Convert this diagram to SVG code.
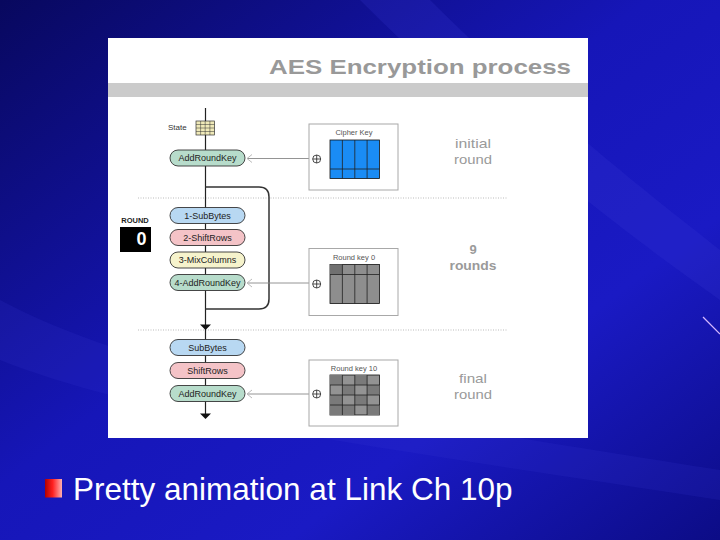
<svg xmlns="http://www.w3.org/2000/svg" width="720" height="540" viewBox="0 0 720 540">
<defs>
<linearGradient id="bg" x1="0" y1="0" x2="1" y2="1">
<stop offset="0" stop-color="#08085e"/>
<stop offset="0.45" stop-color="#1616b8"/>
<stop offset="0.7" stop-color="#1a1ac4"/>
<stop offset="1" stop-color="#0c0c86"/>
</linearGradient>
<linearGradient id="bullet" x1="0" y1="0" x2="1" y2="0">
<stop offset="0" stop-color="#b00000"/>
<stop offset="0.45" stop-color="#ff2020"/>
<stop offset="1" stop-color="#ffb0b0"/>
</linearGradient>
<style>
.pill{stroke:#333;stroke-width:0.9}
.pt{font-family:"Liberation Sans",Arial,sans-serif;font-size:9px;fill:#222;text-anchor:middle}
.blue{fill:#b8d8f2}.pink{fill:#f4c3c7}.yel{fill:#f6f3cc}.grn{fill:#b7dccb}
.kbox{fill:#fff;stroke:#a8a8a8;stroke-width:1}
.kt{font-family:"Liberation Sans",Arial,sans-serif;font-size:7.5px;fill:#555;text-anchor:middle}
.lbl{font-family:"Liberation Sans",Arial,sans-serif;font-size:13px;fill:#9a9a9a;text-anchor:middle}
.conn{stroke:#888;stroke-width:0.9;fill:none}
.chev{stroke:#bbb;stroke-width:1;fill:none}
.dot{stroke:#bbb;stroke-width:1;stroke-dasharray:1 1.5}
.gl{stroke:#222;stroke-width:0.8;fill:none}
.xor{fill:none;stroke:#222;stroke-width:0.8}
</style>
</defs>
<rect width="720" height="540" fill="url(#bg)"/>
<path d="M360,0 C480,120 620,230 720,300 L720,250 C630,180 520,90 430,0 Z" fill="#3a3ad8" opacity="0.2"/>
<path d="M0,300 C150,380 400,420 720,470 L720,500 C400,450 150,420 0,360 Z" fill="#3a3ad8" opacity="0.15"/>
<line x1="703" y1="317" x2="720" y2="334" stroke="#d6b8ff" stroke-width="1.2"/>

<g id="panel">
<rect x="108" y="38" width="480" height="400" fill="#fff"/>
<rect x="108" y="83" width="480" height="14" fill="#cbcbcb"/>
<text x="269" y="74" font-family="Liberation Sans,Arial,sans-serif" font-weight="bold" font-size="21" fill="#999" textLength="302" lengthAdjust="spacingAndGlyphs">AES Encryption process</text>
<line class="dot" x1="138" y1="198" x2="507" y2="198"/>
<line class="dot" x1="138" y1="330" x2="507" y2="330"/>
</g>

<g id="connectors">
<line x1="205.5" y1="108" x2="205.5" y2="416" stroke="#222" stroke-width="1.2"/>
<path d="M205.5,187 H259 Q269,187 269,197 V299 Q269,309 259,309 H205.5" stroke="#333" stroke-width="1.5" fill="none"/>
<polygon points="200,324.5 211,324.5 205.5,330" fill="#111"/>
<polygon points="200,413.5 211,413.5 205.5,419" fill="#111"/>
<line class="conn" x1="309" y1="158.5" x2="247" y2="158.5"/>
<polyline class="chev" points="252,154.5 247,158.5 252,162.5"/>
<line class="conn" x1="309" y1="283" x2="247" y2="283"/>
<polyline class="chev" points="252,279 247,283 252,287"/>
<line class="conn" x1="309" y1="394" x2="247" y2="394" stroke="#ccc"/>
<polyline class="chev" points="252,390 247,394 252,398" stroke="#ddd"/>
</g>

<g id="state">
<text x="168" y="130" font-family="Liberation Sans,Arial,sans-serif" font-size="8" fill="#333">State</text>
<rect x="196" y="121" width="18.5" height="14" fill="#efe9b8" stroke="#333" stroke-width="0.7"/>
<path d="M200.6,121V135M205.2,121V135M209.9,121V135M196,124.5H214.5M196,128H214.5M196,131.5H214.5" stroke="#333" stroke-width="0.5"/>
</g>

<g id="addroundkey0">
<rect class="pill grn" x="170" y="150" width="75" height="16" rx="8"/>
<text class="pt" x="207.5" y="161.3">AddRoundKey</text>
</g>

<g id="round-label">
<text x="135" y="223" font-family="Liberation Sans,Arial,sans-serif" font-weight="bold" font-size="7.5" fill="#222" text-anchor="middle">ROUND</text>
<rect x="120" y="227" width="31" height="25" fill="#000"/>
<text x="141.5" y="244.5" font-family="Liberation Sans,Arial,sans-serif" font-weight="bold" font-size="18" fill="#fff" text-anchor="middle">0</text>
</g>

<g id="subbytes">
<rect class="pill blue" x="170" y="207.5" width="75" height="16" rx="8"/>
<text class="pt" x="207.5" y="218.8">1-SubBytes</text>
</g>
<g id="shiftrows">
<rect class="pill pink" x="170" y="229.5" width="75" height="16" rx="8"/>
<text class="pt" x="207.5" y="240.8">2-ShiftRows</text>
</g>
<g id="mixcolumns">
<rect class="pill yel" x="170" y="252" width="75" height="16" rx="8"/>
<text class="pt" x="207.5" y="263.3">3-MixColumns</text>
</g>
<g id="addroundkey-round">
<rect class="pill grn" x="170" y="274.5" width="75" height="16" rx="8"/>
<text class="pt" x="207.5" y="285.8">4-AddRoundKey</text>
</g>

<g id="final-subbytes">
<rect class="pill blue" x="170" y="339.5" width="75" height="16" rx="8"/>
<text class="pt" x="207.5" y="350.8">SubBytes</text>
</g>
<g id="final-shiftrows">
<rect class="pill pink" x="170" y="362.5" width="75" height="16" rx="8"/>
<text class="pt" x="207.5" y="373.8">ShiftRows</text>
</g>
<g id="final-addroundkey">
<rect class="pill grn" x="170" y="385.5" width="75" height="16" rx="8"/>
<text class="pt" x="207.5" y="396.8">AddRoundKey</text>
</g>

<g id="cipher-key">
<rect class="kbox" x="309" y="124" width="89" height="66"/>
<text class="kt" x="354" y="135">Cipher Key</text>
<rect x="330" y="140" width="49.5" height="38.5" fill="#1a8cf5" stroke="#111" stroke-width="0.8"/>
<path d="M342.4,140V178.5M354.8,140V178.5M367.1,140V178.5M330,169H379.5" class="gl"/>
<circle class="xor" cx="316.7" cy="159" r="4"/>
<path class="xor" d="M312.7,159H320.7M316.7,155V163"/>
</g>

<g id="round-key-0">
<rect class="kbox" x="309" y="248.5" width="89" height="67"/>
<text class="kt" x="354" y="260">Round key 0</text>
<rect x="330" y="264.5" width="49.5" height="39" fill="#8e8e8e" stroke="#111" stroke-width="0.8"/>
<rect x="330" y="264.5" width="12.4" height="10" fill="#707070"/>
<path d="M342.4,264.5V303.5M354.8,264.5V303.5M367.1,264.5V303.5M330,274.5H379.5" class="gl"/>
<circle class="xor" cx="316.7" cy="284" r="4"/>
<path class="xor" d="M312.7,284H320.7M316.7,280V288"/>
</g>

<g id="round-key-10">
<rect class="kbox" x="309" y="360" width="89" height="66"/>
<text class="kt" x="354" y="371">Round key 10</text>
<rect x="330" y="375" width="49.5" height="40" fill="#939393" stroke="#111" stroke-width="0.8"/>
<path d="M330,375h12.4v10h-12.4z M354.8,375h12.3v10h-12.3z M342.4,385h12.4v10h-12.4z M330,395h12.4v10h-12.4z M354.8,395h12.3v10h-12.3z M342.4,405h12.4v10h-12.4z M367.1,385h12.4v10h-12.4z M367.1,405h12.4v10h-12.4z M330,405h12.4v10h-12.4z" fill="#7a7a7a"/>
<path d="M342.4,375V415M354.8,375V415M367.1,375V415M330,385H379.5M330,395H379.5M330,405H379.5" class="gl"/>
<circle class="xor" cx="316.7" cy="394" r="4"/>
<path class="xor" d="M312.7,394H320.7M316.7,390V398"/>
</g>

<g id="labels">
<text class="lbl" x="473" y="148" textLength="36" lengthAdjust="spacingAndGlyphs">initial</text>
<text class="lbl" x="473" y="164" textLength="38" lengthAdjust="spacingAndGlyphs">round</text>
<text class="lbl" x="473" y="254" font-weight="bold" font-size="15">9</text>
<text class="lbl" x="473" y="270" font-weight="bold" font-size="13.5" textLength="47" lengthAdjust="spacingAndGlyphs">rounds</text>
<text class="lbl" x="473" y="383" textLength="28" lengthAdjust="spacingAndGlyphs">final</text>
<text class="lbl" x="473" y="399" textLength="38" lengthAdjust="spacingAndGlyphs">round</text>
</g>

<g id="bullet-text">
<rect x="45" y="479" width="17" height="18.5" fill="url(#bullet)"/>
<text x="73" y="500" font-family="Liberation Sans,Arial,sans-serif" font-size="31.5" fill="#fff">Pretty animation at Link Ch 10p</text>
</g>
</svg>
